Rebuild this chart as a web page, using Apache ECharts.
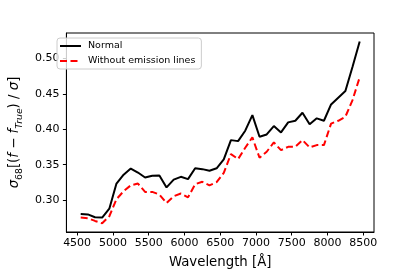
<!DOCTYPE html>
<html>
<head>
<meta charset="utf-8">
<script src="https://cdn.jsdelivr.net/npm/echarts@6/dist/echarts.min.js"></script>
<style>
html,body{margin:0;padding:0;background:#fff;}
#chart{width:415px;height:277px;}
</style>
</head>
<body>
<div id="chart"></div>
<script>
// Data
const wavelengths = [4550, 4650, 4750, 4850, 4950, 5050, 5150, 5250, 5350, 5450,
  5550, 5650, 5750, 5850, 5950, 6050, 6150, 6250, 6350, 6450,
  6550, 6650, 6750, 6850, 6950, 7050, 7150, 7250, 7350, 7450,
  7550, 7650, 7750, 7850, 7950, 8050, 8150, 8250, 8350, 8450];
const normal = [0.2807, 0.2800, 0.2760, 0.2755, 0.2880, 0.3235, 0.3360, 0.3447, 0.3390, 0.3320,
  0.3344, 0.3350, 0.3180, 0.3290, 0.3330, 0.3297, 0.3450, 0.3438, 0.3415, 0.3450,
  0.3575, 0.3847, 0.3833, 0.3980, 0.4200, 0.3894, 0.3927, 0.4045, 0.3956, 0.4097,
  0.4120, 0.4233, 0.4070, 0.4154, 0.4120, 0.4350, 0.4445, 0.4540, 0.4880, 0.5236];
const withoutEmission = [0.2755, 0.2746, 0.2708, 0.2675, 0.2774, 0.3014, 0.3127, 0.3210, 0.3235, 0.3117,
  0.3117, 0.3080, 0.2960, 0.3056, 0.3094, 0.3040, 0.3226, 0.3260, 0.3210, 0.3254,
  0.3386, 0.3650, 0.3580, 0.3740, 0.3885, 0.3598, 0.3683, 0.3815, 0.3706, 0.3753,
  0.3753, 0.3847, 0.3744, 0.3777, 0.3777, 0.4080, 0.4120, 0.4177, 0.4412, 0.4733];
const xTicks = [4500, 5000, 5500, 6000, 6500, 7000, 7500, 8000, 8500];
const yTicks = [0.30, 0.35, 0.40, 0.45, 0.50];
const seriesNames = ['Normal', 'Without emission lines'];

const FONT = 'DejaVu Sans';
const chart = echarts.init(document.getElementById('chart'), null, {renderer: 'canvas'});
const pair = (xs, ys) => xs.map((x, i) => [x, ys[i]]);

chart.setOption({
  animation: false,
  backgroundColor: '#fff',
  textStyle: {fontFamily: FONT},
  grid: {left: 52, right: 41, top: 33, bottom: 45, show: true, borderColor: '#000', borderWidth: 1, backgroundColor: 'transparent'},
  legend: {
    orient: 'vertical', left: 57, top: 38,
    backgroundColor: 'rgba(255,255,255,0.8)', borderColor: '#ccc', borderWidth: 1, borderRadius: 3,
    padding: [3, 6, 3, 2],
    itemWidth: 21, itemHeight: 10, itemGap: 5,
    itemStyle: {opacity: 0},
    textStyle: {fontFamily: FONT, fontSize: 9.5, color: '#000', padding: [0, 0, 0, 2]},
    data: seriesNames
  },
  xAxis: {
    type: 'value', min: 4350, max: 8650,
    name: 'Wavelength [Å]', nameLocation: 'middle', nameGap: 24,
    nameTextStyle: {fontFamily: FONT, fontSize: 13.3, color: '#000'},
    axisLine: {show: true, onZero: false, lineStyle: {color: '#000', width: 1}},
    axisTick: {show: true, inside: false, length: 3.5, lineStyle: {color: '#000'}, customValues: xTicks},
    axisLabel: {fontFamily: FONT, fontSize: 11, color: '#000', margin: 6, customValues: xTicks, formatter: v => String(v)},
    splitLine: {show: false}
  },
  yAxis: {
    type: 'value', min: 0.2552, max: 0.5357,
    name: '{s|σ}{sub|68}{n|[(}{i|f}{n| − }{i|f}{isub|True}{n|) / }{s|σ}{n|]}',
    nameLocation: 'middle', nameGap: 39, nameRotate: 90,
    nameTextStyle: {
      fontFamily: FONT, fontSize: 13.3, color: '#000',
      rich: {
        s: {fontFamily: FONT, fontSize: 13.3, fontStyle: 'italic', color: '#000', verticalAlign: 'bottom'},
        n: {fontFamily: FONT, fontSize: 13.3, color: '#000', verticalAlign: 'bottom'},
        i: {fontFamily: FONT, fontSize: 13.3, fontStyle: 'italic', color: '#000', verticalAlign: 'bottom'},
        sub: {fontFamily: FONT, fontSize: 9.3, color: '#000', verticalAlign: 'bottom', padding: [0, 0, -3, 0]},
        isub: {fontFamily: FONT, fontSize: 9.3, fontStyle: 'italic', color: '#000', verticalAlign: 'bottom', padding: [0, 0, -3, 0]}
      }
    },
    axisLine: {show: true, onZero: false, lineStyle: {color: '#000', width: 1}},
    axisTick: {show: true, inside: false, length: 3.5, lineStyle: {color: '#000'}, customValues: yTicks},
    axisLabel: {fontFamily: FONT, fontSize: 11, color: '#000', margin: 7, customValues: yTicks, formatter: v => v.toFixed(2)},
    splitLine: {show: false}
  },
  series: [
    {name: seriesNames[0], type: 'line', data: pair(wavelengths, normal), symbol: 'none',
     lineStyle: {color: '#000', width: 2}, itemStyle: {color: '#000'}},
    {name: seriesNames[1], type: 'line', data: pair(wavelengths, withoutEmission), symbol: 'none',
     lineStyle: {color: '#ff0000', width: 2, type: [7, 3.5]}, itemStyle: {color: '#ff0000'}}
  ]
});
</script>
</body>
</html>
